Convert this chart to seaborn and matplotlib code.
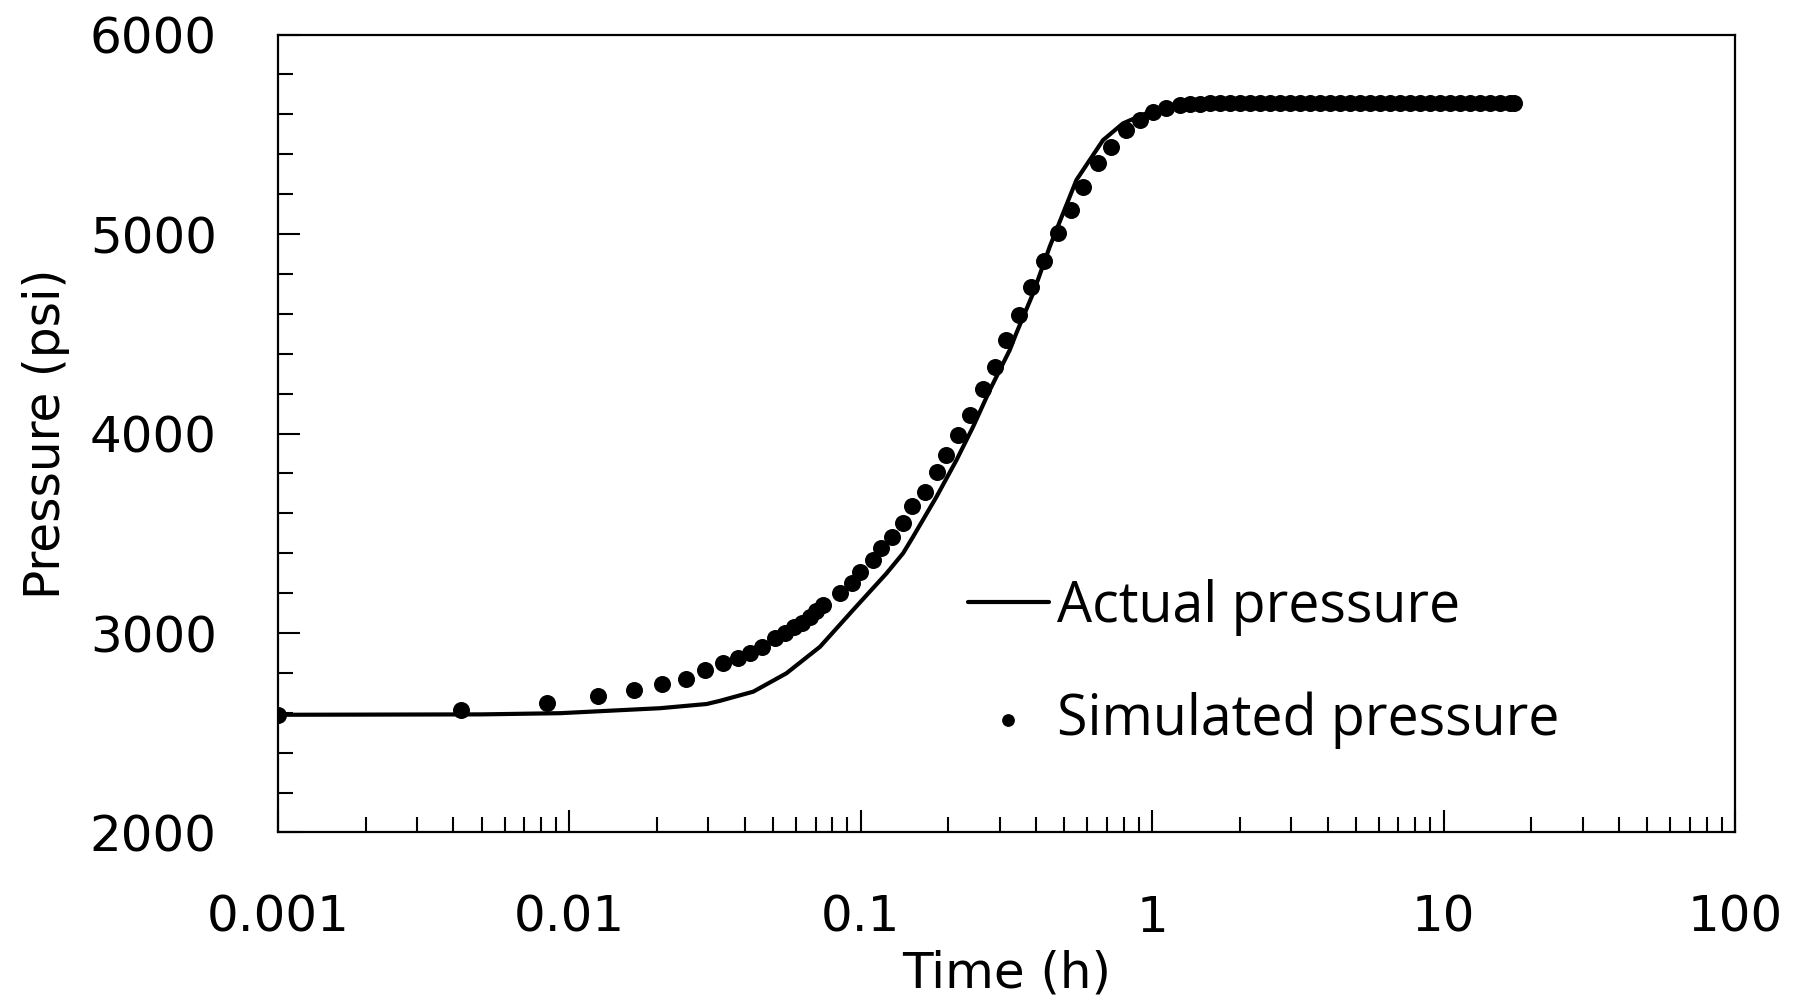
import matplotlib
matplotlib.use("Agg")
import matplotlib.pyplot as plt
from matplotlib.ticker import MultipleLocator, LogLocator, FixedLocator, FixedFormatter, NullFormatter
import seaborn as sns
import pandas as pd

# Actual pressure (solid line)
actual_time = [0.001, 0.005, 0.0093, 0.0205, 0.0296, 0.0329, 0.0428, 0.0556, 0.0725,
               0.0941, 0.1226, 0.1398, 0.1513, 0.182, 0.2131, 0.243, 0.2773, 0.3247, 0.342,
               0.3905, 0.4453, 0.4948, 0.5498, 0.6107, 0.6785, 0.7943, 0.981, 1.276,
               2.0, 5.0, 17.4]
actual_pressure = [2590, 2592, 2598, 2623, 2644, 2660, 2706, 2798, 2931,
                   3115, 3299, 3400, 3483, 3683, 3867, 4034, 4218, 4419, 4503,
                   4703, 4937, 5104, 5271, 5371, 5471, 5555, 5613, 5638,
                   5650, 5652, 5652]

# Simulated pressure (dots)
sim_time = [0.001, 0.00426, 0.00836, 0.0125, 0.01667, 0.0208, 0.0252, 0.0292, 0.0337,
            0.038, 0.0416, 0.0457, 0.0507, 0.0548, 0.059, 0.063, 0.0669, 0.0705, 0.0741,
            0.0848, 0.093, 0.0993, 0.1103, 0.1178, 0.1276, 0.1398, 0.1501, 0.166, 0.182,
            0.1958, 0.2158, 0.2379, 0.263, 0.2884, 0.3163, 0.3494, 0.3841, 0.4256, 0.4755,
            0.5285, 0.5793, 0.6523, 0.7251, 0.8164, 0.9067, 1.007, 1.12, 1.244,
            1.346, 1.457, 1.576, 1.705, 1.846, 1.998, 2.161, 2.339, 2.531, 2.74, 2.965,
            3.208, 3.472, 3.758, 4.067, 4.401, 4.763, 5.154, 5.578, 6.036, 6.531, 7.068,
            7.65, 8.279, 8.959, 9.694, 10.49, 11.35, 12.29, 13.3, 14.39, 15.57, 16.85, 17.4]
sim_pressure = [2590, 2613, 2647, 2684, 2714, 2743, 2769, 2815, 2848,
                2873, 2898, 2931, 2973, 3000, 3028, 3052, 3080, 3108, 3140,
                3199, 3249, 3307, 3366, 3425, 3483, 3553, 3637, 3708, 3809,
                3892, 3993, 4093, 4222, 4335, 4469, 4594, 4733, 4864, 5004,
                5120, 5237, 5354, 5438, 5521, 5571, 5613, 5630, 5647,
                5652, 5654, 5655, 5655, 5655, 5655, 5655, 5655, 5655, 5655, 5655,
                5655, 5655, 5655, 5655, 5655, 5655, 5655, 5655, 5655, 5655, 5655,
                5655, 5655, 5655, 5655, 5655, 5655, 5655, 5655, 5655, 5655, 5655, 5655]

x_ticks = [0.001, 0.01, 0.1, 1, 10, 100]
x_tick_labels = ["0.001", "0.01", "0.1", "1", "10", "100"]
y_ticks = [2000, 3000, 4000, 5000, 6000]

actual = pd.DataFrame({"time": actual_time, "pressure": actual_pressure})
sim = pd.DataFrame({"time": sim_time, "pressure": sim_pressure})

sns.set_theme(style="white")
plt.rcParams["font.family"] = ["DejaVu Sans"]
plt.rcParams.update({"text.color": "black", "axes.labelcolor": "black",
                     "xtick.color": "black", "ytick.color": "black"})

fig = plt.figure(figsize=(18.08, 10.06), dpi=100)
ax = fig.add_axes([0.1537, 0.1725, 0.8059, 0.7931])

sns.lineplot(data=actual, x="time", y="pressure", color="black", lw=3,
             label="Actual pressure", ax=ax, zorder=2)
sns.scatterplot(data=sim, x="time", y="pressure", color="black", s=150,
                linewidth=0, label="Simulated pressure", ax=ax, zorder=3)

ax.set_xscale("log")
ax.set_xlim(0.001, 100)
ax.set_ylim(2000, 6000)
ax.xaxis.set_major_locator(FixedLocator(x_ticks))
ax.xaxis.set_major_formatter(FixedFormatter(x_tick_labels))
ax.xaxis.set_minor_locator(LogLocator(base=10, subs=range(2, 10)))
ax.xaxis.set_minor_formatter(NullFormatter())
ax.yaxis.set_major_locator(FixedLocator(y_ticks))
ax.yaxis.set_minor_locator(MultipleLocator(200))

ax.tick_params(which="both", direction="in", colors="black", width=1.5,
               top=False, right=False, left=True, bottom=True)
ax.tick_params(which="major", length=16, pad=44, labelsize=36)
ax.tick_params(which="minor", length=11)

for sp in ax.spines.values():
    sp.set_visible(True)
    sp.set_color("black")
    sp.set_linewidth(1.6)

ax.set_xlabel("Time (h)", fontsize=36, labelpad=6)
ax.set_ylabel("Pressure (psi)", fontsize=35, labelpad=14)

ax.legend(loc="upper left", bbox_to_anchor=(0.4735, 0.318), frameon=False,
          prop={"family": "Open Sans", "size": 40}, handlelength=1.46,
          handletextpad=0.14, labelspacing=1.0, borderpad=0, borderaxespad=0,
          markerscale=0.75)

fig.savefig("out.png", dpi=100)
